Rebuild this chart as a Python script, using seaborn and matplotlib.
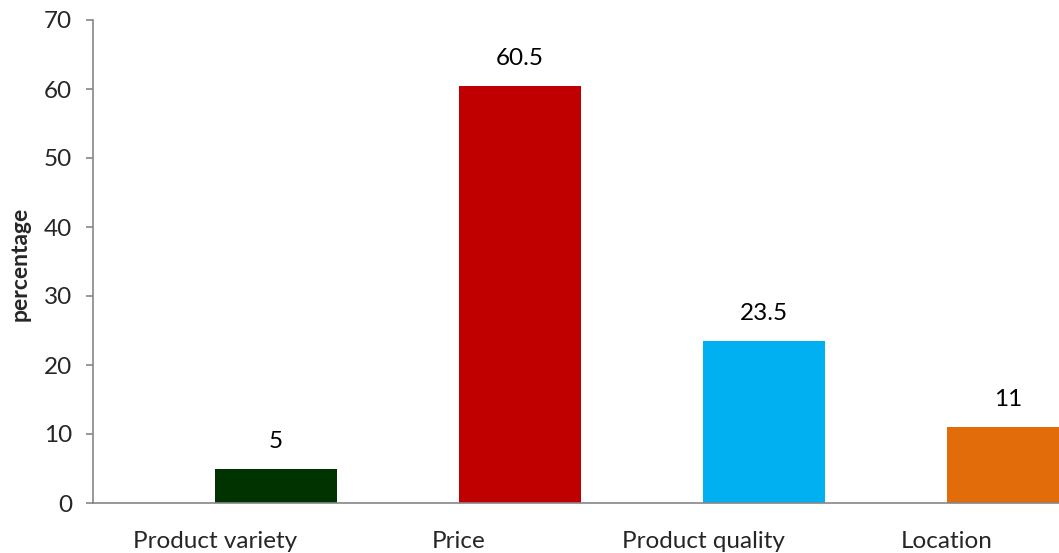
import matplotlib
matplotlib.use("Agg")
import matplotlib.pyplot as plt
import seaborn as sns
import pandas as pd
import numpy as np

categories = ["Product variety", "Price", "Product quality", "Location"]
values = [5, 60.5, 23.5, 11]
colors = ["#003300", "#C00000", "#00B0F0", "#E36C0A"]
y_ticks = [0, 10, 20, 30, 40, 50, 60, 70]

sns.set_theme(style="white")
plt.rcParams["font.family"] = ["Lato", "DejaVu Sans"]

# Two-level hue: an empty placeholder series sits left of each category centre,
# so the real bar occupies the right half of its slot.
df = pd.DataFrame({
    "category": categories * 2,
    "value": [np.nan] * len(categories) + values,
    "series": ["blank"] * len(categories) + ["share"] * len(categories),
})

fig = plt.figure(figsize=(10.59, 5.53), dpi=100)
ax = fig.add_axes([93 / 1059, 50 / 553, 976 / 1059, 483 / 553])

sns.barplot(data=df, x="category", y="value", hue="series",
            hue_order=["blank", "share"], order=categories,
            width=1.0, dodge=True, legend=False, ax=ax,
            palette=["#ffffff", "#ffffff"], saturation=1)

bars = [p for p in ax.patches if np.isfinite(p.get_height()) and p.get_height() > 0]
bars.sort(key=lambda p: p.get_x())
for p, c, v in zip(bars, colors, values):
    p.set_facecolor(c)
    p.set_edgecolor("none")
    ax.annotate(f"{v:g}", (p.get_x() + p.get_width() / 2, v),
                xytext=(0, 12), textcoords="offset points",
                ha="center", va="bottom", fontsize=17.5, color="#000000")

ax.set_xlim(-0.5, 3.5)
ax.set_ylim(0, 70)
ax.set_yticks(y_ticks)
ax.tick_params(axis="y", length=5, width=1.2, color="#868686", direction="out",
               labelsize=17.5, pad=10, left=True)
ax.tick_params(axis="x", length=0, labelsize=17.5, pad=20)
ax.set_xlabel("")
ax.set_ylabel("")
fig.text(20 / 1059, 1 - 264 / 553, "percentage", rotation=90,
         ha="center", va="center", fontsize=16.5, fontweight="bold")

for side in ["top", "right"]:
    ax.spines[side].set_visible(False)
for side in ["left", "bottom"]:
    ax.spines[side].set_color("#868686")
    ax.spines[side].set_linewidth(1.2)

fig.savefig("out.png", dpi=100)
